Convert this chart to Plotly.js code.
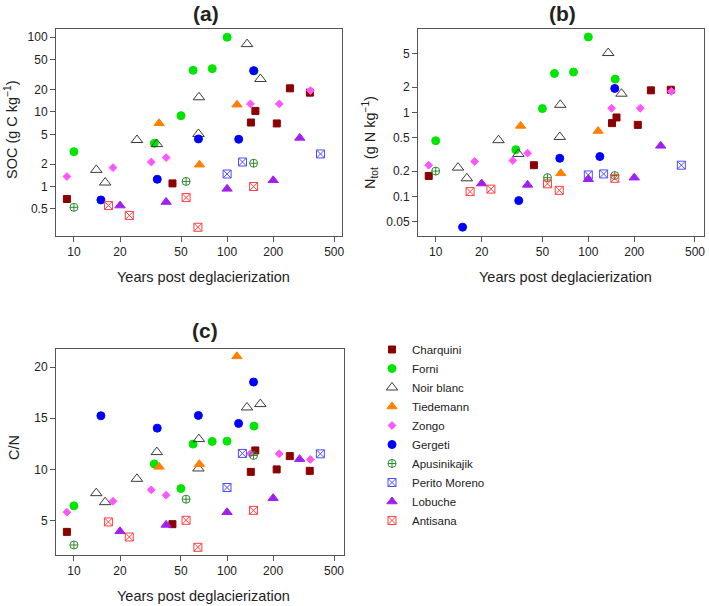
<!DOCTYPE html>
<html>
<head>
<meta charset="utf-8">
<script src="https://cdn.plot.ly/plotly-3.0.1.min.js"></script>
<style>
html,body{margin:0;padding:0;background:#fff;}
#chart{width:709px;height:606px;}
</style>
</head>
<body>
<div id="chart"></div>
<script>
// ---- data ----
const sites = ["Charquini", "Forni", "Noir blanc", "Tiedemann", "Zongo", "Gergeti", "Apusinikajik", "Perito Moreno", "Lobuche", "Antisana"];

// years post deglacierization, per site
const years = [
  [9, 44, 143, 153, 211, 257, 347],
  [10, 33.5, 50, 60, 80, 100, 150],
  [14, 16, 25.8, 34.8, 65.5, 65, 135, 165],
  [36, 66, 116],
  [9, 18, 32, 40, 142, 219, 350],
  [15, 35, 65, 119, 149],
  [10, 54, 149],
  [100, 126, 407],
  [20, 40, 100, 200, 298],
  [16.8, 23, 54, 64.5, 149]
];

// SOC (g C kg-1), per site
const soc = [
  [0.68, 1.1, 7.2, 10.3, 7.0, 20.7, 18.1],
  [2.93, 3.8, 8.9, 36.1, 38, 100, 35.5],
  [1.67, 1.13, 4.2, 3.7, 15.7, 5.06, 81, 27.6],
  [7.03, 1.96, 12.5],
  [1.36, 1.79, 2.13, 2.44, 12.8, 12.8, 19.3],
  [0.66, 1.25, 4.34, 4.3, 35.7],
  [0.526, 1.17, 2.05],
  [1.47, 2.13, 2.73],
  [0.555, 0.62, 0.93, 1.21, 4.48],
  [0.555, 0.41, 0.71, 0.284, 1.0]
];

// N tot (g N kg-1), per site
const ntot = [
  [0.175, 0.235, 0.745, 0.87, 0.71, 1.83, 1.86],
  [0.46, 0.36, 1.11, 2.91, 3.02, 7.9, 2.49],
  [0.22, 0.164, 0.467, 0.32, 1.23, 0.51, 5.09, 1.67],
  [0.69, 0.188, 0.6],
  [0.235, 0.26, 0.267, 0.327, 1.12, 1.12, 1.78],
  [0.043, 0.089, 0.284, 0.298, 1.93],
  [0.2, 0.167, 0.177],
  [0.18, 0.185, 0.235],
  [0.142, 0.137, 0.16, 0.167, 0.40],
  [0.114, 0.122, 0.141, 0.118, 0.164]
];

// C/N ratio, per site
const cn = [
  [3.9, 4.65, 9.76, 11.85, 10.0, 11.3, 9.86],
  [6.44, 10.54, 8.13, 12.47, 12.73, 12.76, 14.23],
  [7.68, 6.8, 9.08, 11.69, 12.96, 10.09, 16.05, 16.38],
  [10.25, 10.51, 21.04],
  [5.82, 6.89, 8.0, 7.48, 11.52, 11.52, 10.97],
  [15.24, 14.03, 15.27, 14.49, 18.53],
  [2.62, 7.09, 11.36],
  [8.23, 11.56, 11.52],
  [3.95, 4.58, 5.82, 7.19, 11.0],
  [4.87, 3.4, 5.03, 2.39, 6.0]
];

const xTicks = [10, 20, 50, 100, 200, 500];
const socTicks = [0.5, 1, 2, 5, 10, 20, 50, 100];
const nTicks = [0.05, 0.1, 0.2, 0.5, 1, 2, 5];
const cnTicks = [5, 10, 15, 20];

// ---- styles ----
const colors = ["#8b0000", "#00e600", "#3a3a3a", "#ff8000", "#ff55ff", "#0000ff", "#2e8b2e", "#4d4dff", "#a020f0", "#ff4040"];
const symbols = ["square", "circle", "triangle-up-open", "triangle-up", "diamond", "circle", "circle-cross-open", "square-x-open", "triangle-up", "square-x-open"];
const sizes = [7, 8, 10, 9, 6, 8, 8, 8, 9, 8];

const traces = [];
const panels = [
  {vals: soc, xa: "x", ya: "y", legend: true},
  {vals: ntot, xa: "x2", ya: "y2", legend: false},
  {vals: cn, xa: "x3", ya: "y3", legend: false}
];
panels.forEach(p => {
  sites.forEach((s, i) => {
    traces.push({
      type: "scatter", mode: "markers",
      x: years[i], y: p.vals[i],
      xaxis: p.xa, yaxis: p.ya,
      name: s, showlegend: p.legend,
      marker: {color: colors[i], symbol: symbols[i], size: sizes[i], line: {color: colors[i], width: 1}},
      hoverinfo: "x+y+name"
    });
  });
});

const font = "Liberation Sans, Arial, sans-serif";
const axBase = {
  showgrid: false, zeroline: false, showline: true, mirror: true, automargin: false,
  linecolor: "#555", linewidth: 1, ticks: "outside", ticklen: 5, tickcolor: "#555",
  tickfont: {family: font, size: 12, color: "#222"}, fixedrange: true
};
const xBase = Object.assign({}, axBase, {type: "log", tickvals: xTicks, ticktext: xTicks.map(String)});

const W = 709, H = 606;
const ann = (text, px, py, size, angle) => ({
  text: text, x: px / W, y: 1 - py / H, xref: "paper", yref: "paper",
  xanchor: "center", yanchor: "middle", showarrow: false, textangle: angle || 0,
  font: {family: font, size: size, color: "#222"}
});

const layout = {
  width: W, height: H,
  margin: {l: 0, r: 0, t: 0, b: 0, autoexpand: false},
  paper_bgcolor: "#fff", plot_bgcolor: "#fff",
  font: {family: font, color: "#222"},
  showlegend: true,
  legend: {x: 372 / W, y: 1 - 335 / H, xanchor: "left", yanchor: "top", tracegroupgap: 0,
           font: {family: font, size: 11.5, color: "#222"}, bgcolor: "rgba(0,0,0,0)"},
  xaxis: Object.assign({}, xBase, {domain: [56 / W, 342 / W], range: [0.883, 2.75], anchor: "y"}),
  yaxis: Object.assign({}, axBase, {type: "log", domain: [1 - 236 / H, 1 - 29 / H], range: [-0.6635, 2.111],
           tickvals: socTicks, ticktext: socTicks.map(String), anchor: "x"}),
  xaxis2: Object.assign({}, xBase, {domain: [418 / W, 704 / W], range: [0.884, 2.758], anchor: "y2"}),
  yaxis2: Object.assign({}, axBase, {type: "log", domain: [1 - 236 / H, 1 - 29 / H], range: [-1.472, 0.993],
           tickvals: nTicks, ticktext: nTicks.map(String), anchor: "x2"}),
  xaxis3: Object.assign({}, xBase, {domain: [56 / W, 344 / W], range: [0.883, 2.764], anchor: "y3"}),
  yaxis3: Object.assign({}, axBase, {domain: [1 - 555 / H, 1 - 349 / H], range: [1.64, 21.76],
           tickvals: cnTicks, ticktext: cnTicks.map(String), anchor: "x3"}),
  annotations: [
    ann("<b>(a)</b>", 206, 14, 21),
    ann("<b>(b)</b>", 562, 14, 21),
    ann("<b>(c)</b>", 205, 330, 21),
    ann("Years post deglacierization", 203, 277, 14.5),
    ann("Years post deglacierization", 565, 277, 14.5),
    ann("Years post deglacierization", 203, 596, 14.5),
    ann("SOC (g C kg<sup>\u22121</sup>)", 11, 130, 14.5, -90),
    ann("N<sub>tot</sub>  (g N kg<sup>\u22121</sup>)", 370, 143, 14.5, -90),
    ann("C/N", 14, 448, 14.5, -90)
  ]
};

Plotly.newPlot("chart", traces, layout, {staticPlot: true, displayModeBar: false});
</script>
</body>
</html>
